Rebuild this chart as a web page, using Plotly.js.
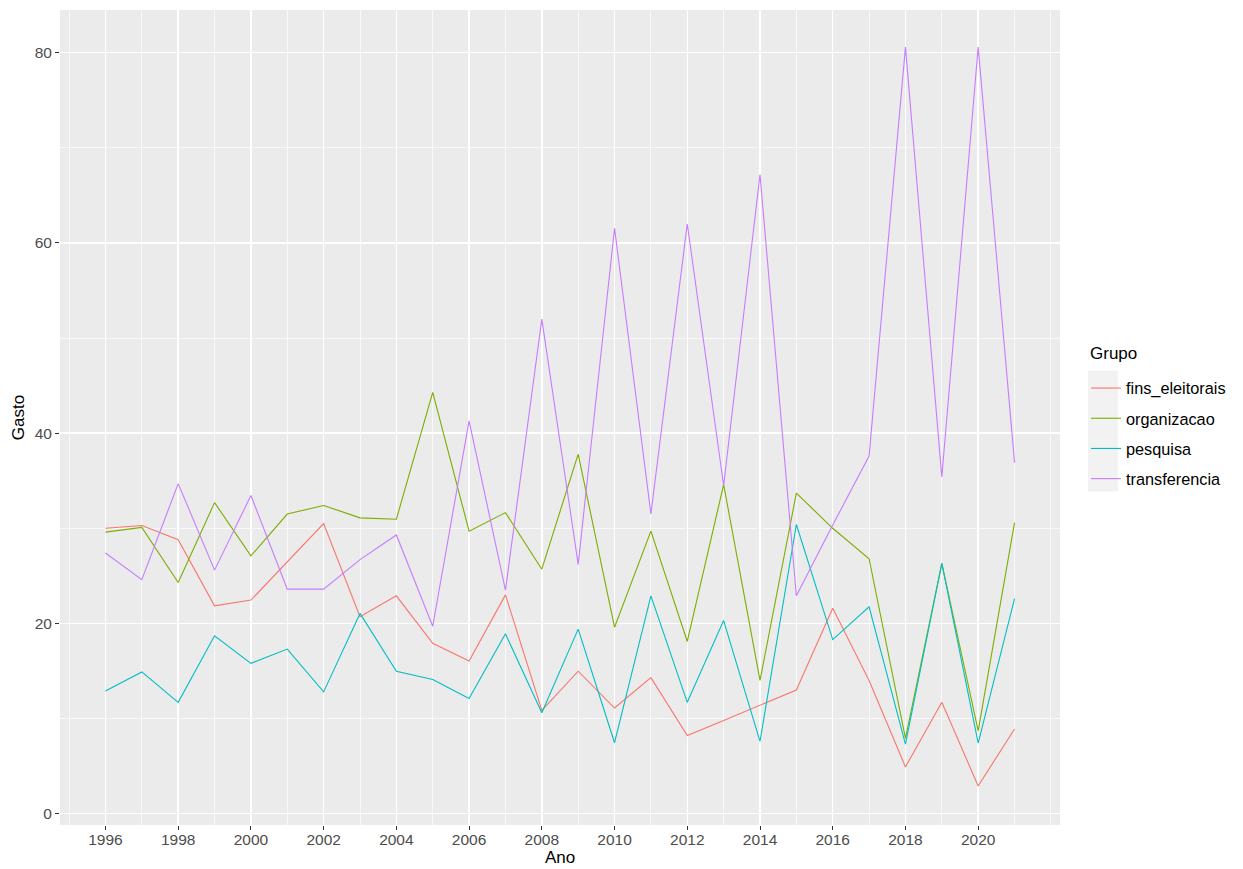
<!DOCTYPE html>
<html><head><meta charset="utf-8">
<script src="https://cdn.plot.ly/plotly-3.0.1.min.js"></script>
<style>body{margin:0;background:#fff}#chart{width:1243px;height:869px}</style>
</head><body><div id="chart"></div>
<script>
const anos = [1996,1997,1998,1999,2000,2001,2002,2003,2004,2005,2006,2007,2008,2009,2010,2011,2012,2013,2014,2015,2016,2017,2018,2019,2020,2021];
const fins_eleitorais = [30.0,30.3,28.8,21.85,22.45,26.5,30.5,20.7,22.9,17.9,16.05,23.0,10.85,14.97,11.1,14.3,8.2,9.8,11.4,13.0,21.6,14.0,4.9,11.7,2.9,8.9];
const organizacao = [29.6,30.1,24.3,32.7,27.1,31.5,32.4,31.1,30.95,44.3,29.7,31.65,25.7,37.8,19.6,29.7,18.1,34.6,14.0,33.7,30.0,26.8,7.9,26.3,8.7,30.6];
const pesquisa = [12.9,14.9,11.7,18.7,15.8,17.3,12.8,21.05,14.97,14.1,12.1,18.9,10.6,19.4,7.45,22.9,11.7,20.3,7.6,30.4,18.3,21.75,7.3,26.3,7.4,22.6];
const transferencia = [27.4,24.6,34.7,25.6,33.45,23.6,23.6,26.7,29.3,19.7,41.3,23.5,52.0,26.2,61.55,31.5,62.0,34.5,67.2,22.9,30.35,37.6,80.6,35.4,80.6,36.9];
const grupos = ["fins_eleitorais","organizacao","pesquisa","transferencia"];
const xticks = [1996,1998,2000,2002,2004,2006,2008,2010,2012,2014,2016,2018,2020];
const yticks = [0,20,40,60,80];
const series = [fins_eleitorais, organizacao, pesquisa, transferencia];
const cores = ["#F8766D","#7CAE00","#00BFC4","#C77CFF"];

const traces = grupos.map((g,i)=>({
  x: anos, y: series[i], name: g, type: 'scatter', mode: 'lines',
  legendgroup: g,
  line: {color: cores[i], width: 1.1}
}));

const font = "Liberation Sans, Arial, sans-serif";
const layout = {
  width: 1243, height: 869,
  paper_bgcolor: '#FFFFFF', plot_bgcolor: '#EBEBEB',
  margin: {l: 60, r: 183, t: 10, b: 44},
  font: {family: font, color: '#4D4D4D', size: 15.5},
  showlegend: true,
  xaxis: {
    range: [1994.75, 2022.25], tickmode: 'array', tickvals: xticks, ticktext: xticks.map(String),
    showgrid: true, gridcolor: '#FFFFFF', gridwidth: 1.4, zeroline: false,
    ticks: 'outside', ticklen: 4, tickcolor: '#333333', tickwidth: 1,
    ticklabelstandoff: -4,
    tickfont: {family: font, size: 15.5, color: '#4D4D4D'},
    minor: {dtick: 1, tick0: 1995, showgrid: true, gridcolor: '#FFFFFF', gridwidth: 0.7},
    title: {text: 'Ano', font: {family: font, size: 17, color: '#000000'}, standoff: 4},
    showline: false
  },
  yaxis: {
    range: [-1.2, 84.5], tickmode: 'array', tickvals: yticks, ticktext: yticks.map(String),
    showgrid: true, gridcolor: '#FFFFFF', gridwidth: 1.4, zeroline: false,
    ticks: 'outside', ticklen: 4, tickcolor: '#333333', tickwidth: 1,
    tickfont: {family: font, size: 15.5, color: '#4D4D4D'},
    minor: {dtick: 10, tick0: 0, showgrid: true, gridcolor: '#FFFFFF', gridwidth: 0.7},
    title: {text: 'Gasto', font: {family: font, size: 17, color: '#000000'}, standoff: 5},
    showline: false
  },
  shapes: [{
    type: 'rect', xref: 'paper', yref: 'paper', layer: 'below',
    x0: 1.028, x1: 1.058, y0: 0.4093, y1: 0.5576,
    fillcolor: '#F2F2F2', line: {width: 0}
  }],
  annotations: [{
    text: 'Grupo', xref: 'paper', yref: 'paper', x: 1.028, y: 0.5784,
    xanchor: 'left', yanchor: 'middle', showarrow: false,
    font: {family: font, size: 17, color: '#000000'}
  }],
  legend: {
    x: 1.026, xanchor: 'left', y: 0.4804, yanchor: 'middle',
    bgcolor: 'rgba(0,0,0,0)', borderwidth: 0,
    font: {family: font, size: 16.3, color: '#000000'},
    tracegroupgap: 6, itemwidth: 30
  }
};
Plotly.newPlot('chart', traces, layout, {displayModeBar: false, staticPlot: true});
</script></body></html>
